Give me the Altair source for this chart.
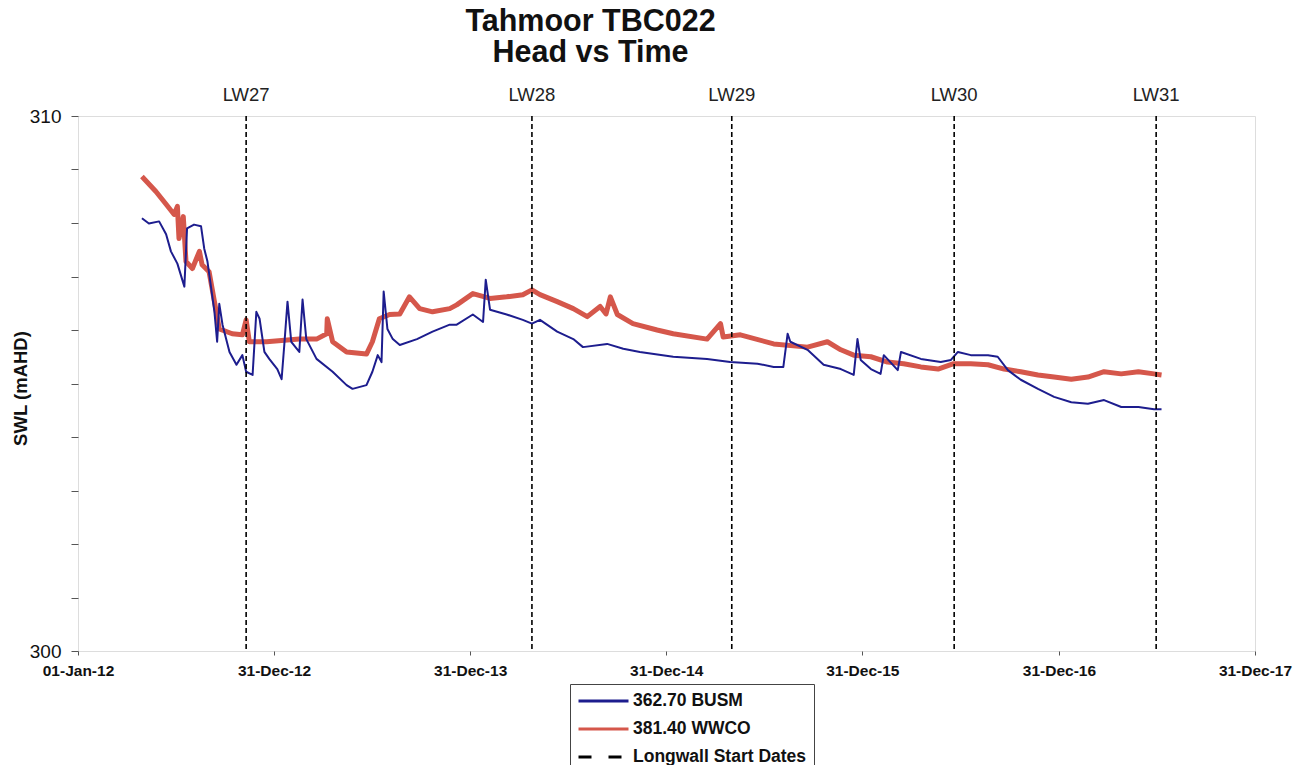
import altair as alt
import pandas as pd

# ---------------- data ----------------
busm_dates = ["2012-04-29","2012-05-12","2012-05-31","2012-06-13","2012-06-22","2012-07-04","2012-07-17","2012-07-22",
              "2012-08-04","2012-08-17","2012-08-23","2012-08-29","2012-09-11","2012-09-16","2012-09-20","2012-09-26",
              "2012-10-09","2012-10-22","2012-11-02","2012-11-09","2012-11-21","2012-11-28","2012-12-04","2012-12-13",
              "2012-12-22","2013-01-06","2013-01-14","2013-01-19","2013-01-25","2013-02-01","2013-02-16","2013-02-22",
              "2013-03-01","2013-03-20","2013-04-19","2013-05-15","2013-05-26","2013-06-21","2013-07-02","2013-07-12",
              "2013-07-19","2013-07-23","2013-07-30","2013-08-09","2013-08-22","2013-09-23","2013-10-22","2013-11-23",
              "2013-12-06","2014-01-05","2014-01-24","2014-01-29","2014-02-06","2014-03-09","2014-04-08","2014-04-25",
              "2014-05-10","2014-06-11","2014-07-11","2014-07-29","2014-09-12","2014-10-12","2014-11-12","2015-01-13",
              "2015-03-17","2015-04-29","2015-06-19","2015-07-19","2015-08-06","2015-08-14","2015-08-19","2015-09-20",
              "2015-10-20","2015-11-21","2015-12-15","2015-12-22","2015-12-28","2016-01-16","2016-02-03","2016-02-09",
              "2016-03-06","2016-03-12","2016-04-18","2016-05-25","2016-06-13","2016-06-26","2016-07-20","2016-08-21",
              "2016-09-08","2016-09-27","2016-10-21","2016-11-22","2016-12-22","2017-01-23","2017-02-23","2017-03-25",
              "2017-04-26","2017-05-28","2017-06-26","2017-07-10"]
busm_values = [308.09,307.99,308.03,307.79,307.47,307.24,306.81,307.90,
               307.97,307.94,307.52,307.28,306.34,305.78,306.49,306.10,
               305.59,305.35,305.53,305.22,305.16,306.34,306.21,305.59,
               305.46,305.27,305.08,305.72,306.53,305.78,305.59,306.57,
               305.83,305.46,305.22,304.97,304.90,304.97,305.22,305.53,
               305.40,306.72,306.02,305.83,305.72,305.83,305.97,306.10,
               306.10,306.29,306.15,306.94,306.38,306.29,306.19,306.12,
               306.19,305.97,305.83,305.68,305.74,305.65,305.59,305.50,
               305.46,305.40,305.37,305.31,305.31,305.93,305.78,305.63,
               305.35,305.27,305.16,305.83,305.44,305.27,305.18,305.53,
               305.25,305.59,305.46,305.40,305.44,305.59,305.53,305.53,
               305.50,305.25,305.07,304.90,304.75,304.65,304.62,304.69,
               304.56,304.56,304.52,304.52]

wwco_dates = ["2012-04-29","2012-05-25","2012-06-13","2012-06-28","2012-07-04","2012-07-07","2012-07-15","2012-07-20",
              "2012-08-01","2012-08-14","2012-08-19","2012-09-01","2012-09-11","2012-09-20","2012-10-14","2012-11-02",
              "2012-11-09","2012-11-15","2012-12-17","2013-02-16","2013-03-20","2013-04-08","2013-04-09","2013-04-19",
              "2013-05-15","2013-06-21","2013-07-02","2013-07-15","2013-08-03","2013-08-22","2013-09-09","2013-09-28",
              "2013-10-22","2013-11-23","2013-12-06","2014-01-05","2014-02-06","2014-03-09","2014-04-08","2014-04-25",
              "2014-05-10","2014-06-11","2014-07-11","2014-08-06","2014-08-30","2014-09-10","2014-09-18","2014-10-01",
              "2014-10-30","2014-12-14","2015-01-13","2015-03-17","2015-04-11","2015-04-16","2015-05-18","2015-07-19",
              "2015-09-20","2015-10-27","2015-11-21","2015-12-15","2016-01-16","2016-02-16","2016-03-17","2016-04-18",
              "2016-05-20","2016-06-18","2016-07-20","2016-08-21","2016-09-20","2016-10-21","2016-11-22","2016-12-22",
              "2017-01-23","2017-02-23","2017-03-25","2017-04-26","2017-05-28","2017-06-26","2017-07-10"]
wwco_values = [308.87,308.59,308.35,308.16,308.31,307.71,308.12,307.28,
               307.15,307.47,307.22,307.09,306.53,306.02,305.93,305.91,
               306.19,305.78,305.78,305.83,305.83,305.93,306.21,305.78,
               305.59,305.55,305.78,306.21,306.29,306.30,306.62,306.40,
               306.34,306.40,306.47,306.68,306.59,306.62,306.66,306.75,
               306.66,306.53,306.40,306.25,306.44,306.30,306.62,306.29,
               306.12,306.00,305.93,305.83,306.12,305.87,305.91,305.74,
               305.68,305.78,305.63,305.53,305.50,305.40,305.37,305.31,
               305.27,305.37,305.37,305.35,305.27,305.22,305.16,305.12,
               305.08,305.12,305.22,305.18,305.22,305.18,305.16]

lw_dates = ["2012-11-09", "2014-04-25", "2015-05-02", "2016-06-19", "2017-06-30"]
lw_labels = ["LW27", "LW28", "LW29", "LW30", "LW31"]

series_names = ["362.70 BUSM", "381.40 WWCO", "Longwall Start Dates"]
series_colors = ["#1d1d8e", "#d5574b", "#000000"]

x_tick_dates = ["2012-01-01", "2012-12-31", "2013-12-31", "2014-12-31",
                "2015-12-31", "2016-12-31", "2017-12-31"]
y_ticks = list(range(300, 311))

# ---------------- tables ----------------
busm = pd.DataFrame({"date": busm_dates, "value": busm_values, "series": series_names[0]})
wwco = pd.DataFrame({"date": wwco_dates, "value": wwco_values, "series": series_names[1]})
lw = pd.DataFrame({"date": lw_dates, "label": lw_labels, "series": series_names[2]})


def dt(s):
    y, m, d = (int(p) for p in s.split("-"))
    return alt.DateTime(year=y, month=m, date=d)


FONT = "Liberation Sans"

legend = alt.Legend(
    title=None, orient="none", legendX=492, legendY=568,
    symbolType="stroke", symbolSize=2500, clipHeight=20, symbolStrokeWidth=3,
    symbolDash={"expr": "datum.value == 'Longwall Start Dates' ? [13, 17] : [1, 0]"},
    rowPadding=8, padding=7, labelOffset=3,
    labelFont=FONT, labelFontSize=17.5, labelFontWeight="bold", labelColor="#111111",
    strokeColor="#444444", fillColor="white", labelLimit=400,
)

color = alt.Color("series:N", scale=alt.Scale(domain=series_names, range=series_colors), legend=legend)

x_enc = alt.X(
    "date:T",
    scale=alt.Scale(domain=[dt(x_tick_dates[0]), dt(x_tick_dates[-1])], nice=False),
    axis=alt.Axis(
        values=[dt(s) for s in x_tick_dates], format="%d-%b-%y", title=None,
        labelFont=FONT, labelFontSize=15.5, labelFontWeight="bold", labelColor="#111111",
        tickSize=4, tickColor="#555555", domain=False, grid=False,
        labelPadding=8, labelOverlap=False, labelBound=False, labelFlush=False,
    ),
)
y_enc = alt.Y(
    "value:Q",
    scale=alt.Scale(domain=[300, 310], nice=False, zero=False),
    axis=alt.Axis(
        values=y_ticks,
        labelExpr="datum.value == 300 || datum.value == 310 ? datum.label : ''",
        title="SWL (mAHD)", titleFont=FONT, titleFontSize=18.5, titleFontWeight="bold",
        titleColor="#111111", titleX=-58, titleY=272, titleAngle=270,
        titleAlign="center", titleBaseline="middle",
        labelFont=FONT, labelFontSize=19, labelColor="#111111",
        tickSize=7, tickColor="#555555", domain=False, grid=False, labelPadding=10,
    ),
)

red_line = alt.Chart(wwco).mark_line(strokeJoin="round", strokeWidth=5).encode(
    x=x_enc, y=y_enc, color=color
)
blue_line = alt.Chart(busm).mark_line(strokeJoin="round", strokeWidth=2).encode(
    x="date:T", y="value:Q", color=color
)
rules = alt.Chart(lw).mark_rule(strokeWidth=1.6, strokeDash=[5, 3]).encode(
    x="date:T", color=color
)
labels = alt.Chart(lw).mark_text(
    font=FONT, fontSize=18.5, color="#222222", baseline="middle", align="center"
).encode(x="date:T", y=alt.value(-21), text="label:N")

chart = alt.layer(red_line, blue_line, rules, labels).properties(
    width=1177, height=535,
    autosize=alt.AutoSizeParams(type="none"),
    padding={"left": 70, "top": 108, "right": 41, "bottom": 114},
    title=alt.TitleParams(
        ["Tahmoor TBC022", "Head vs Time"], font=FONT, fontSize=30.5, fontWeight="bold",
        color="#111111", anchor="middle", dx=-76, offset=-12, baseline="bottom", lineHeight=31,
    ),
).configure_view(stroke="#777777", strokeWidth=1).configure(background="white")

chart.save("out.html", embed_options={"renderer": "svg", "actions": False})
